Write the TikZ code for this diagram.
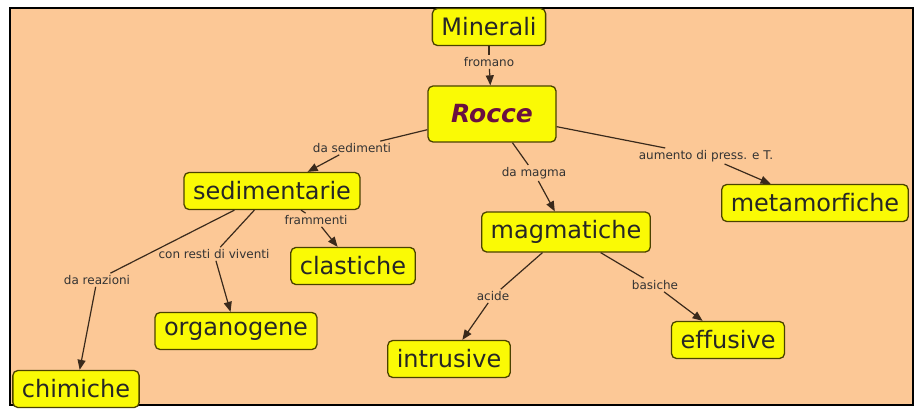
\documentclass[tikz,border=0pt]{standalone}
\usepackage{fontspec}
\setmainfont[Ligatures=NoCommon]{DejaVu Sans}
\usepackage{xcolor}
\usepackage{tikz}
\usetikzlibrary{arrows.meta}
\definecolor{peach}{HTML}{FCC896}
\definecolor{cmapyellow}{HTML}{FAFA05}
\definecolor{boxline}{HTML}{4A4200}
\definecolor{linkline}{HTML}{3A2A1C}
\definecolor{rocceink}{HTML}{6A1040}

\begin{document}
\begin{tikzpicture}[x=1pt, y=-1pt,
  concept/.style={rectangle, draw=boxline, line width=1.3pt, fill=cmapyellow, rounded corners=5pt, inner xsep=9pt, inner ysep=2pt, minimum height=37pt, font=\fontsize{24}{28}\selectfont, text=black!85},
  link/.style={inner sep=2pt, font=\fontsize{12}{14}\selectfont, text=black!80},
  line/.style={linkline, line width=1.2pt},
  arrow/.style={line, -{Triangle[length=10pt, width=8pt]}}
]

  % Frame
  \useasboundingbox (0,0) rectangle (920,414);
  \draw[fill=peach, line width=1.5pt] (10,8) rectangle (913,405);

  % Top: Minerali -> Rocce
  \node[concept] (minerali) at (489,27) {Minerali};
  \node[concept, minimum width=128pt, minimum height=56pt, font=\fontsize{25}{28}\selectfont\bfseries\itshape, text=rocceink] (rocce) at (492,114) {Rocce};
  \node[link] (fromano) at (489,62) {fromano};

  \draw[line] (minerali) -- (fromano);
  \draw[arrow] (fromano) -- (rocce);

  % Middle row
  \node[concept] (sedimentarie) at (272,191) {sedimentarie};
  \node[concept, minimum height=40pt] (magmatiche) at (566,232) {magmatiche};
  \node[concept] (metamorfiche) at (815,203) {metamorfiche};

  \node[link] (dasedimenti) at (352,148) {da sedimenti};
  \node[link] (damagma) at (534,173) {da magma};
  \node[link] (aumento) at (706,156) {aumento di press. e T.};

  \draw[line] (rocce) -- (dasedimenti);
  \draw[arrow] (dasedimenti) -- (sedimentarie);
  \draw[line] (rocce) -- (damagma);
  \draw[arrow] (damagma) -- (magmatiche);
  \draw[line] (rocce) -- (aumento);
  \draw[arrow] (aumento) -- (metamorfiche);

  % Sedimentarie branch
  \node[concept] (clastiche) at (353,266) {clastiche};
  \node[concept] (organogene) at (236,331) {organogene};
  \node[concept] (chimiche) at (76,389) {chimiche};

  \node[link] (frammenti) at (316,220) {frammenti};
  \node[link] (conresti) at (214,254) {con resti di viventi};
  \node[link] (dareazioni) at (97,280) {da reazioni};

  \draw[line] (sedimentarie) -- (frammenti);
  \draw[arrow] (frammenti) -- (clastiche);
  \draw[line] (sedimentarie) -- (conresti);
  \draw[arrow] (conresti) -- (organogene);
  \draw[line] (sedimentarie) -- (dareazioni);
  \draw[arrow] (dareazioni) -- (chimiche);

  % Magmatiche branch
  \node[concept] (intrusive) at (449,359) {intrusive};
  \node[concept] (effusive) at (728,340) {effusive};

  \node[link] (acide) at (493,296) {acide};
  \node[link] (basiche) at (655,285) {basiche};

  \draw[line] (magmatiche) -- (acide);
  \draw[arrow] (acide) -- (intrusive);
  \draw[line] (magmatiche) -- (basiche);
  \draw[arrow] (basiche) -- (effusive);

\end{tikzpicture}
\end{document}
